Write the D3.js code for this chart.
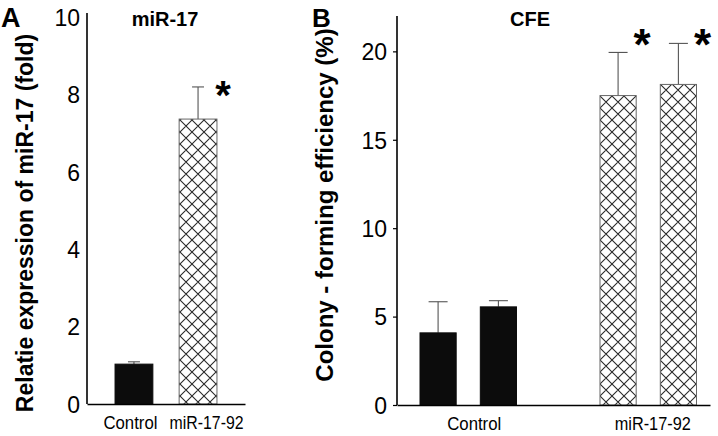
<!DOCTYPE html>
<html>
<head>
<meta charset="utf-8">
<script src="https://cdn.jsdelivr.net/npm/d3@7"></script>
<style>
  html, body { margin: 0; padding: 0; background: #fff; }
  svg text { font-family: "Liberation Sans", Arial, sans-serif; fill: #000; }
</style>
</head>
<body>
<svg id="chart" width="718" height="436"></svg>
<script>
// ---------- data ----------
const catsA = ["Control", "miR-17-92"];
const valuesA = [1.03, 7.36];
const errorsA = [0.06, 0.83];
const ticksA = [0, 2, 4, 6, 8, 10];
const sigA = ["miR-17-92"];

const groupsB = ["Control", "miR-17-92"];
const replicatesB = ["r1", "r2"];
const valuesB = [[4.08, 5.55], [17.5, 18.13]];
const errorsB = [[1.76, 0.35], [2.44, 2.32]];
const ticksB = [0, 5, 10, 15, 20];
const sigB = ["miR-17-92"];
const starLevelB = 20.9;

const titleA = "miR-17";
const titleB = "CFE";
const yLabelA = "Relatie expression of miR-17 (fold)";
const yLabelB = "Colony - forming efficiency (%)";

// ---------- setup ----------
const svg = d3.select("#chart");
const defs = svg.append("defs");
const pat = defs.append("pattern").attr("id", "hatch")
  .attr("patternUnits", "userSpaceOnUse").attr("width", 12).attr("height", 12);
pat.append("rect").attr("width", 12).attr("height", 12).attr("fill", "#fff");
pat.append("path").attr("d", "M0,0L12,12M0,12L12,0M-6,6L6,-6M6,18L18,6M-6,6L6,18M6,-6L18,6")
  .attr("stroke", "#2a2a2a").attr("stroke-width", 1.1);

const fillFor = d3.scaleOrdinal().domain(["Control", "miR-17-92"]).range(["#0c0c0c", "url(#hatch)"]);
const strokeFor = d3.scaleOrdinal().domain(["Control", "miR-17-92"]).range(["#0c0c0c", "#666"]);

function drawErr(g, x, w, yTop, yBase, capHalf) {
  const cx = x + w / 2;
  g.append("line").attr("x1", cx).attr("x2", cx).attr("y1", yBase).attr("y2", yTop)
    .attr("stroke", "#555").attr("stroke-width", 1.1);
  g.append("line").attr("x1", cx - capHalf).attr("x2", cx + capHalf).attr("y1", yTop).attr("y2", yTop)
    .attr("stroke", "#555").attr("stroke-width", 1.1);
}

// condensed-looking category labels (reference uses a narrow face)
function styleCatLabels(sel, widths, shifts) {
  sel.selectAll(".tick text")
    .style("font-size", "17.5px")
    .attr("dy", "0.9em")
    .attr("dx", d => shifts[d])
    .attr("textLength", d => widths[d])
    .attr("lengthAdjust", "spacingAndGlyphs");
}

// ---------- Panel A ----------
const yA = d3.scaleLinear().domain([0, 10.1]).range([404, 13]);
const xA = d3.scaleBand().domain(catsA).range([87, 245]).paddingInner(0.41).paddingOuter(0.4375);
const gA = svg.append("g");

catsA.forEach((c, i) => {
  const x = xA(c), w = xA.bandwidth();
  drawErr(gA, x, w, yA(valuesA[i] + errorsA[i]), yA(valuesA[i]), 6);
  gA.append("rect").attr("x", x).attr("width", w)
    .attr("y", yA(valuesA[i])).attr("height", yA(0) - yA(valuesA[i]))
    .attr("fill", fillFor(c)).attr("stroke", strokeFor(c)).attr("stroke-width", 1);
});

const axA = gA.append("g").attr("transform", "translate(87,0)")
  .call(d3.axisLeft(yA).tickValues(ticksA).tickSize(0).tickPadding(7).tickFormat(d3.format("d")));
axA.select(".domain").remove();
axA.selectAll("text").style("font-size", "23px").attr("dy", "0.36em");
gA.append("line").attr("x1", 87).attr("x2", 87).attr("y1", yA(0)).attr("y2", yA.range()[1])
  .attr("stroke", "#000").attr("stroke-width", 1.6);

const axAx = gA.append("g").attr("transform", `translate(0,${yA(0)})`)
  .call(d3.axisBottom(xA).tickSize(0).tickPadding(9));
axAx.select(".domain").attr("stroke", "#000").attr("stroke-width", 1.6);
styleCatLabels(axAx, {"Control": 54, "miR-17-92": 74}, {"Control": -3.5, "miR-17-92": 8.5});

sigA.forEach(c => {
  const i = catsA.indexOf(c);
  const fs = 40;
  gA.append("text").text("*").attr("text-anchor", "middle")
    .attr("x", xA(c) + xA.bandwidth() + 6)
    .attr("y", yA(valuesA[i] + errorsA[i]) + 0.55 * fs)
    .style("font-size", fs + "px").style("font-weight", "bold");
});

gA.append("text").text(titleA).attr("x", 165).attr("y", 26).attr("text-anchor", "middle")
  .style("font-size", "20px").style("font-weight", "bold");
gA.append("text").text("A").attr("x", 1).attr("y", 27)
  .style("font-size", "27px").style("font-weight", "bold");
gA.append("text").text(yLabelA).attr("transform", "translate(33,223) rotate(-90)")
  .attr("text-anchor", "middle").style("font-size", "23px").style("font-weight", "bold");

// ---------- Panel B ----------
const yB = d3.scaleLinear().domain([0, 22]).range([405, 16]);
const xB = d3.scaleBand().domain(groupsB).range([397, 710])
  .paddingInner(0.4639).paddingOuter(0.1014).align(0.63);
const xBi = d3.scaleBand().domain(replicatesB).range([0, xB.bandwidth()]).paddingInner(0.4);
const gB = svg.append("g");

groupsB.forEach((g, gi) => {
  replicatesB.forEach((r, ri) => {
    const x = xB(g) + xBi(r), w = xBi.bandwidth();
    const v = valuesB[gi][ri], e = errorsB[gi][ri];
    drawErr(gB, x, w, yB(v + e), yB(v), 9.5);
    gB.append("rect").attr("x", x).attr("width", w)
      .attr("y", yB(v)).attr("height", yB(0) - yB(v))
      .attr("fill", fillFor(g)).attr("stroke", strokeFor(g)).attr("stroke-width", 1);
  });
});

const axB = gB.append("g").attr("transform", "translate(397,0)")
  .call(d3.axisLeft(yB).tickValues(ticksB).tickSize(4).tickPadding(6).tickFormat(d3.format("d")));
axB.select(".domain").remove();
axB.selectAll(".tick line").attr("stroke", "#000").attr("stroke-width", 1.2);
axB.selectAll("text").style("font-size", "23px").attr("dy", "0.36em");
gB.append("line").attr("x1", 397).attr("x2", 397).attr("y1", yB(0)).attr("y2", yB.range()[1])
  .attr("stroke", "#000").attr("stroke-width", 1.6);

const axBx = gB.append("g").attr("transform", `translate(0,${yB(0)})`)
  .call(d3.axisBottom(xB).tickSize(0).tickPadding(9));
axBx.select(".domain").attr("stroke", "#000").attr("stroke-width", 1.6);
styleCatLabels(axBx, {"Control": 54, "miR-17-92": 76}, {"Control": 6, "miR-17-92": 4.5});

sigB.forEach(g => {
  const fs = 44;
  replicatesB.forEach(r => {
    gB.append("text").text("*").attr("text-anchor", "middle")
      .attr("x", xB(g) + xBi(r) + xBi.bandwidth() + 6)
      .attr("y", yB(starLevelB) + 0.55 * fs)
      .style("font-size", fs + "px").style("font-weight", "bold");
  });
});

gB.append("text").text(titleB).attr("x", 530).attr("y", 26).attr("text-anchor", "middle")
  .style("font-size", "20px").style("font-weight", "bold");
gB.append("text").text("B").attr("x", 312).attr("y", 27)
  .style("font-size", "26px").style("font-weight", "bold");
gB.append("text").text(yLabelB).attr("transform", "translate(333,205) rotate(-90)")
  .attr("text-anchor", "middle").style("font-size", "24px").style("font-weight", "bold");
</script>
</body>
</html>
